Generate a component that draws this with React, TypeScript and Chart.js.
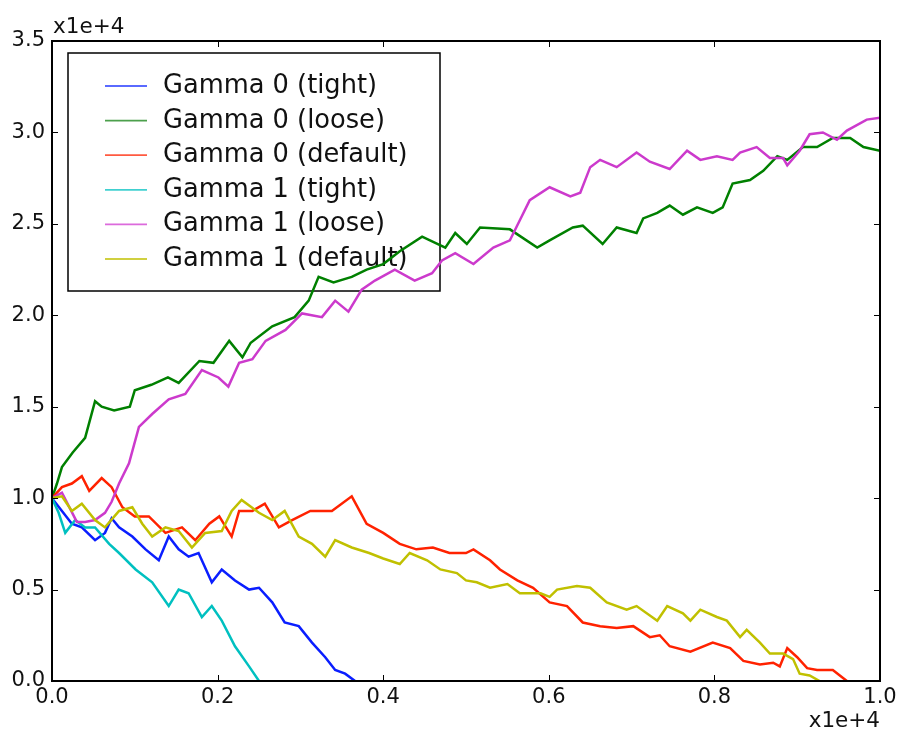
import React, { useEffect, useRef } from "react";
import { Chart, registerables } from "chart.js";

Chart.register(...registerables);

// ---- data (x and y in units of 1e+4) ----
const seriesLabels = [
  "Gamma 0 (tight)",
  "Gamma 0 (loose)",
  "Gamma 0 (default)",
  "Gamma 1 (tight)",
  "Gamma 1 (loose)",
  "Gamma 1 (default)",
];

const seriesColors = ["#0a1eff", "#008000", "#ff2200", "#00c0c0", "#cc3acc", "#c0c000"];
const legendColors = ["#5a6aff", "#4ca04c", "#ff5a40", "#40d0d0", "#dc6adc", "#d0d040"];

const g0TightX = [0, 0.012, 0.024, 0.036, 0.052, 0.064, 0.072, 0.081, 0.097, 0.113, 0.129, 0.141, 0.153, 0.165, 0.177, 0.193, 0.205, 0.221, 0.238, 0.25, 0.266, 0.281, 0.298, 0.314, 0.33, 0.342, 0.354, 0.366];
const g0TightY = [1.0, 0.93, 0.86, 0.84, 0.77, 0.81, 0.89, 0.84, 0.79, 0.72, 0.66, 0.79, 0.72, 0.68, 0.7, 0.54, 0.61, 0.55, 0.5, 0.51, 0.43, 0.32, 0.3, 0.21, 0.13, 0.06, 0.04, 0.0];

const g0LooseX = [0, 0.006, 0.012, 0.025, 0.04, 0.052, 0.06, 0.075, 0.094, 0.1, 0.12, 0.14, 0.153, 0.178, 0.195, 0.214, 0.23, 0.24, 0.266, 0.293, 0.31, 0.322, 0.34, 0.362, 0.38, 0.4, 0.42, 0.447, 0.475, 0.487, 0.501, 0.517, 0.553, 0.586, 0.601, 0.629, 0.641, 0.665, 0.682, 0.706, 0.714, 0.731, 0.746, 0.762, 0.779, 0.798, 0.81, 0.822, 0.843, 0.859, 0.876, 0.888, 0.907, 0.924, 0.943, 0.964, 0.98, 1.0];
const g0LooseY = [1.0, 1.08, 1.17, 1.25, 1.33, 1.53, 1.5, 1.48, 1.5, 1.59, 1.62, 1.66, 1.63, 1.75, 1.74, 1.86, 1.77, 1.85, 1.94, 1.99, 2.08, 2.21, 2.18, 2.21, 2.25, 2.28, 2.35, 2.43, 2.37, 2.45, 2.39, 2.48, 2.47, 2.37, 2.41, 2.48, 2.49, 2.39, 2.48, 2.45, 2.53, 2.56, 2.6, 2.55, 2.59, 2.56, 2.59, 2.72, 2.74, 2.79, 2.87, 2.85, 2.92, 2.92, 2.97, 2.97, 2.92, 2.9];

const g0DefaultX = [0, 0.012, 0.024, 0.036, 0.045, 0.06, 0.072, 0.085, 0.1, 0.117, 0.137, 0.157, 0.173, 0.19, 0.202, 0.217, 0.226, 0.242, 0.257, 0.274, 0.29, 0.312, 0.338, 0.362, 0.38, 0.4, 0.42, 0.44, 0.46, 0.48, 0.5, 0.509, 0.529, 0.541, 0.562, 0.581, 0.601, 0.622, 0.641, 0.662, 0.682, 0.702, 0.722, 0.734, 0.746, 0.771, 0.798, 0.819, 0.835, 0.855, 0.871, 0.879, 0.888, 0.9, 0.912, 0.924, 0.943, 0.96];
const g0DefaultY = [1.0, 1.06, 1.08, 1.12, 1.04, 1.11, 1.06, 0.95, 0.9, 0.9, 0.81, 0.84, 0.77, 0.86, 0.9, 0.79, 0.93, 0.93, 0.97, 0.84, 0.88, 0.93, 0.93, 1.01, 0.86, 0.81, 0.75, 0.72, 0.73, 0.7, 0.7, 0.72, 0.66, 0.61, 0.55, 0.51, 0.43, 0.41, 0.32, 0.3, 0.29, 0.3, 0.24, 0.25, 0.19, 0.16, 0.21, 0.18, 0.11, 0.09, 0.1, 0.08, 0.18, 0.13, 0.07, 0.06, 0.06, 0.0];

const g1TightX = [0, 0.008, 0.016, 0.028, 0.04, 0.052, 0.069, 0.081, 0.101, 0.121, 0.141, 0.153, 0.165, 0.181, 0.193, 0.205, 0.221, 0.238, 0.25];
const g1TightY = [1.0, 0.92, 0.81, 0.88, 0.84, 0.84, 0.75, 0.7, 0.61, 0.54, 0.41, 0.5, 0.48, 0.35, 0.41, 0.33, 0.19, 0.08, 0.0];

const g1LooseX = [0, 0.012, 0.03, 0.04, 0.052, 0.064, 0.072, 0.081, 0.093, 0.105, 0.121, 0.141, 0.161, 0.181, 0.201, 0.213, 0.226, 0.242, 0.258, 0.282, 0.302, 0.326, 0.342, 0.358, 0.374, 0.39, 0.414, 0.438, 0.459, 0.471, 0.487, 0.509, 0.533, 0.553, 0.565, 0.577, 0.601, 0.626, 0.638, 0.65, 0.662, 0.682, 0.706, 0.722, 0.746, 0.767, 0.783, 0.803, 0.822, 0.831, 0.851, 0.867, 0.883, 0.888, 0.903, 0.915, 0.931, 0.948, 0.96, 0.984, 1.0];
const g1LooseY = [1.0, 1.03, 0.87, 0.87, 0.88, 0.92, 0.98, 1.08, 1.19, 1.39, 1.46, 1.54, 1.57, 1.7, 1.66, 1.61, 1.74, 1.76, 1.86, 1.92, 2.01, 1.99, 2.08, 2.02, 2.14, 2.19, 2.25, 2.19, 2.23, 2.3, 2.34, 2.28, 2.37, 2.41, 2.52, 2.63, 2.7, 2.65, 2.67, 2.81, 2.85, 2.81, 2.89, 2.84, 2.8, 2.9, 2.85, 2.87, 2.85, 2.89, 2.92, 2.86, 2.86, 2.82, 2.9, 2.99, 3.0, 2.96, 3.01, 3.07, 3.08];

const g1DefaultX = [0, 0.012, 0.024, 0.036, 0.052, 0.064, 0.081, 0.097, 0.109, 0.121, 0.137, 0.153, 0.169, 0.185, 0.205, 0.217, 0.229, 0.25, 0.266, 0.281, 0.298, 0.314, 0.33, 0.342, 0.362, 0.383, 0.4, 0.42, 0.432, 0.453, 0.469, 0.489, 0.5, 0.513, 0.529, 0.55, 0.565, 0.59, 0.601, 0.61, 0.634, 0.65, 0.67, 0.694, 0.706, 0.731, 0.743, 0.762, 0.771, 0.783, 0.803, 0.815, 0.831, 0.839, 0.855, 0.867, 0.883, 0.895, 0.903, 0.915, 0.927];
const g1DefaultY = [1.0, 1.01, 0.93, 0.97, 0.88, 0.84, 0.93, 0.95, 0.86, 0.79, 0.84, 0.82, 0.73, 0.81, 0.82, 0.93, 0.99, 0.92, 0.88, 0.93, 0.79, 0.75, 0.68, 0.77, 0.73, 0.7, 0.67, 0.64, 0.7, 0.66, 0.61, 0.59, 0.55, 0.54, 0.51, 0.53, 0.48, 0.48, 0.46, 0.5, 0.52, 0.51, 0.43, 0.39, 0.41, 0.33, 0.41, 0.37, 0.33, 0.39, 0.35, 0.33, 0.24, 0.28, 0.21, 0.15, 0.15, 0.12, 0.04, 0.03, 0.0];

const xTicks = [0, 0.2, 0.4, 0.6, 0.8, 1.0];
const yTicks = [0, 0.5, 1.0, 1.5, 2.0, 2.5, 3.0, 3.5];
const offsetText = "x1e+4";

const seriesX = [g0TightX, g0LooseX, g0DefaultX, g1TightX, g1LooseX, g1DefaultX];
const seriesY = [g0TightY, g0LooseY, g0DefaultY, g1TightY, g1LooseY, g1DefaultY];

const FONT = "'DejaVu Sans', 'Liberation Sans', sans-serif";

function pairs(xs: number[], ys: number[]) {
  return xs.map((x, i) => ({ x, y: ys[i] }));
}

const decorPlugin = {
  id: "decor",
  beforeDatasetsDraw(chart: any) {
    const { ctx, chartArea } = chart;
    const left = chartArea.left + 16;
    const top = chartArea.top + 12;
    const w = 372;
    const h = 238;
    ctx.save();
    ctx.fillStyle = "#ffffff";
    ctx.fillRect(left, top, w, h);
    ctx.strokeStyle = "#000000";
    ctx.lineWidth = 1.5;
    ctx.strokeRect(left, top, w, h);
    ctx.font = `25.7px ${FONT}`;
    ctx.textAlign = "left";
    ctx.textBaseline = "alphabetic";
    chart.data.datasets.forEach((ds: any, i: number) => {
      const y = top + 33 + i * 34.6;
      ctx.strokeStyle = legendColors[i];
      ctx.lineWidth = 1.8;
      ctx.beginPath();
      ctx.moveTo(left + 37, y);
      ctx.lineTo(left + 79, y);
      ctx.stroke();
      ctx.fillStyle = "#111111";
      ctx.fillText(ds.label, left + 95, y + 7);
    });
    ctx.restore();
  },
  afterDraw(chart: any) {
    const { ctx, chartArea } = chart;
    const xs = chart.scales.x;
    const ys = chart.scales.y;
    ctx.save();
    ctx.strokeStyle = "#000000";
    ctx.lineWidth = 1;
    const tl = 6;
    xTicks.forEach((v) => {
      const px = Math.round(xs.getPixelForValue(v)) + 0.5;
      ctx.beginPath();
      ctx.moveTo(px, chartArea.bottom);
      ctx.lineTo(px, chartArea.bottom - tl);
      ctx.moveTo(px, chartArea.top);
      ctx.lineTo(px, chartArea.top + tl);
      ctx.stroke();
    });
    yTicks.forEach((v) => {
      const py = Math.round(ys.getPixelForValue(v)) + 0.5;
      ctx.beginPath();
      ctx.moveTo(chartArea.left, py);
      ctx.lineTo(chartArea.left + tl, py);
      ctx.moveTo(chartArea.right, py);
      ctx.lineTo(chartArea.right - tl, py);
      ctx.stroke();
    });
    ctx.lineWidth = 2;
    ctx.strokeRect(chartArea.left, chartArea.top, chartArea.right - chartArea.left, chartArea.bottom - chartArea.top);
    ctx.fillStyle = "#111111";
    ctx.font = `21.5px ${FONT}`;
    ctx.textBaseline = "alphabetic";
    ctx.textAlign = "left";
    ctx.fillText(offsetText, chartArea.left + 1, chartArea.top - 8);
    ctx.textAlign = "right";
    ctx.fillText(offsetText, chartArea.right, chartArea.bottom + 46);
    ctx.restore();
  },
};

export default function App() {
  const ref = useRef<HTMLCanvasElement | null>(null);
  useEffect(() => {
    if (!ref.current) return;
    const datasets = seriesLabels.map((label, i) => ({
      label,
      data: pairs(seriesX[i], seriesY[i]),
      borderColor: seriesColors[i],
      backgroundColor: seriesColors[i],
      borderWidth: 2.5,
      pointRadius: 0,
      tension: 0,
      fill: false,
      order: seriesLabels.length - i,
    }));
    const tickFont = { family: FONT, size: 21 };
    const chart = new Chart(ref.current, {
      type: "line",
      data: { datasets },
      options: {
        animation: false,
        responsive: false,
        devicePixelRatio: 1,
        parsing: false as any,
        layout: { padding: { left: 0, right: 23, top: 41, bottom: 0 } },
        plugins: {
          legend: { display: false },
          tooltip: { enabled: false },
          title: { display: false },
        },
        scales: {
          x: {
            type: "linear",
            min: 0,
            max: 1,
            grid: { display: false, drawTicks: false },
            border: { display: false },
            afterBuildTicks: (s: any) => {
              s.ticks = xTicks.map((v) => ({ value: v }));
            },
            afterFit: (s: any) => {
              s.height = 51;
            },
            ticks: {
              autoSkip: false,
              maxRotation: 0,
              padding: 4,
              color: "#111111",
              font: tickFont,
              callback: (v: any) => Number(v).toFixed(1),
            },
          },
          y: {
            type: "linear",
            min: 0,
            max: 3.5,
            grid: { display: false, drawTicks: false },
            border: { display: false },
            afterBuildTicks: (s: any) => {
              s.ticks = yTicks.map((v) => ({ value: v }));
            },
            afterFit: (s: any) => {
              s.width = 52;
            },
            ticks: {
              autoSkip: false,
              padding: 7,
              color: "#111111",
              font: tickFont,
              callback: (v: any) => Number(v).toFixed(1),
            },
          },
        },
      },
      plugins: [decorPlugin],
    });
    return () => chart.destroy();
  }, []);
  return (
    <div style={{ position: "absolute", left: 0, top: 0, width: 903, height: 732, background: "#fff" }}>
      <canvas ref={ref} width={903} height={732} style={{ display: "block" }} />
    </div>
  );
}
